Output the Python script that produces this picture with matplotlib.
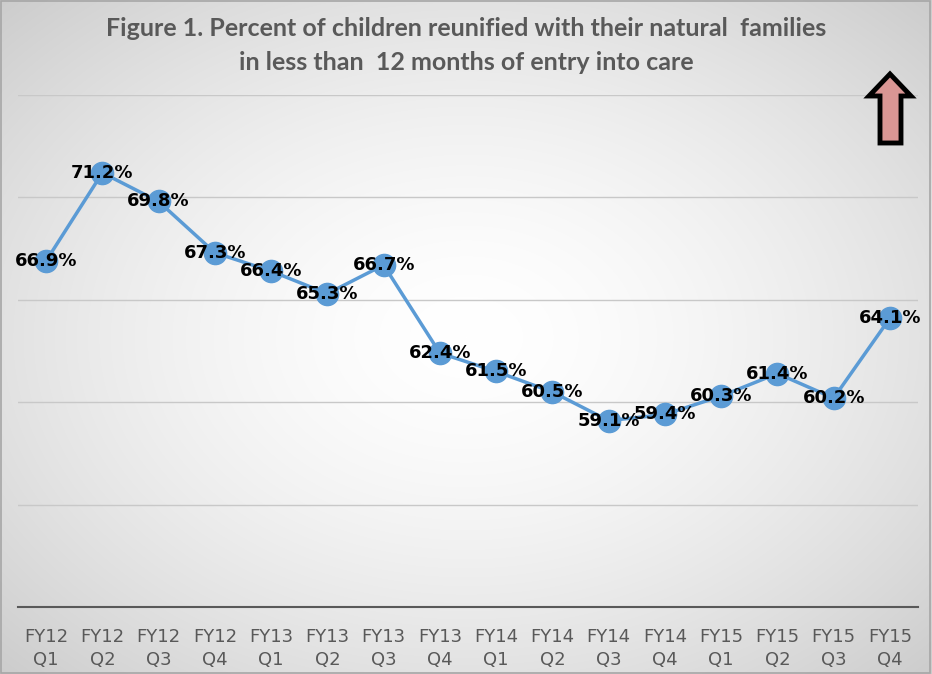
import numpy as np
import matplotlib.pyplot as plt
from matplotlib.patches import Polygon, Rectangle

quarters = ['FY12\nQ1', 'FY12\nQ2', 'FY12\nQ3', 'FY12\nQ4',
            'FY13\nQ1', 'FY13\nQ2', 'FY13\nQ3', 'FY13\nQ4',
            'FY14\nQ1', 'FY14\nQ2', 'FY14\nQ3', 'FY14\nQ4',
            'FY15\nQ1', 'FY15\nQ2', 'FY15\nQ3', 'FY15\nQ4']
pct = [66.9, 71.2, 69.8, 67.3, 66.4, 65.3, 66.7, 62.4,
       61.5, 60.5, 59.1, 59.4, 60.3, 61.4, 60.2, 64.1]

W, H = 932, 674
fig = plt.figure(figsize=(W / 100, H / 100), dpi=100)

# soft grey background like the slide
bg = fig.add_axes([0, 0, 1, 1])
yy, xx = np.mgrid[0:H, 0:W]
r = np.sqrt(((xx - W / 2) / (W / 2)) ** 2 + ((yy - H / 2) / (H / 2)) ** 2) / np.sqrt(2)
shade = 1.0 - 0.2 * r ** 1.6
bg.imshow(np.dstack([shade] * 3), aspect='auto', extent=[0, 1, 0, 1])
bg.set_xlim(0, 1)
bg.set_ylim(0, 1)
bg.axis('off')
fig.add_artist(Rectangle((0.001, 0.001), 0.997, 0.997, transform=fig.transFigure,
                         fill=False, edgecolor='#a6a6a6', linewidth=1.2))

ax = fig.add_axes([18 / W, 1 - 607 / H, 900 / W, 512 / H])
ax.patch.set_alpha(0)
x = np.arange(len(quarters))
ax.plot(x, pct, color='#5b9bd5', linewidth=2.5, marker='o', markersize=16,
        markerfacecolor='#5b9bd5', markeredgecolor='#5b9bd5', zorder=3)
for xi, v in zip(x, pct):
    ax.text(xi, v, f'{v}%', ha='center', va='center', fontsize=13, fontweight='bold',
            color='black', zorder=4)

ax.set_xlim(-0.5, len(quarters) - 0.5)
ax.set_ylim(50, 75)
ax.set_yticks([55, 60, 65, 70, 75])
ax.grid(axis='y', color='#c8c8c8', linewidth=1)
ax.set_axisbelow(True)
ax.tick_params(axis='y', left=False, labelleft=False)
ax.set_xticks(x)
ax.set_xticklabels(quarters, fontsize=13, color='#595959', linespacing=1.35)
ax.tick_params(axis='x', length=0, pad=15)
for s in ['top', 'left', 'right']:
    ax.spines[s].set_visible(False)
ax.spines['bottom'].set_color('#595959')
ax.spines['bottom'].set_linewidth(1.5)

fig.text(466 / W, 1 - 29 / H, 'Figure 1. Percent of children reunified with their natural  families',
         ha='center', va='center', fontsize=18, fontweight='bold', color='#595959', family='Lato')
fig.text(466 / W, 1 - 62 / H, 'in less than  12 months of entry into care',
         ha='center', va='center', fontsize=18, fontweight='bold', color='#595959', family='Lato')

# up arrow in the corner
pts = [(890, 74), (911, 96), (901, 96), (901, 143), (880, 143), (880, 96), (869, 96)]
arrow = Polygon([(px / W, 1 - py / H) for px, py in pts], closed=True,
                transform=fig.transFigure, facecolor='#d99694', edgecolor='black',
                linewidth=3.5, joinstyle='miter')
fig.add_artist(arrow)

plt.savefig('out.png', dpi=100)
plt.close()
